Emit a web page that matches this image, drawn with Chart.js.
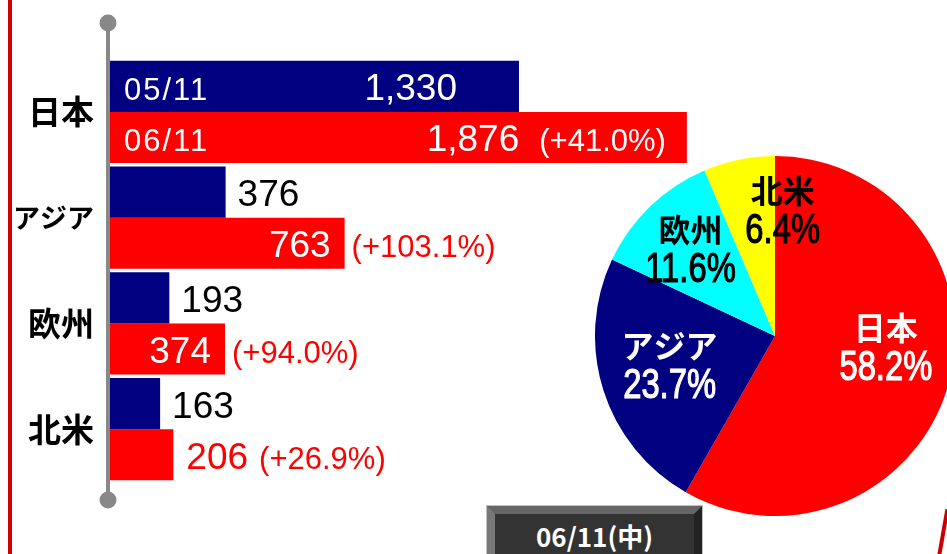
<!DOCTYPE html>
<html>
<head>
<meta charset="utf-8">
<script src="https://cdn.jsdelivr.net/npm/chart.js@4.4.1/dist/chart.umd.min.js"></script>
<style>
  html, body { margin: 0; padding: 0; background: #fff; overflow: hidden; }
  body { position: relative; width: 947px; height: 554px; }
  #redline { position: absolute; left: 8px; top: 0; width: 4px; height: 554px; background: #cc0000; }
  #bars { position: absolute; left: 0; top: 0; }
  #pie { position: absolute; left: 595px; top: 156px; }
  #btn {
    position: absolute; left: 487px; top: 506px; width: 215px; height: 70px;
    box-sizing: border-box; border: 8px solid; border-color: #666 #222 #333 #777;
    outline: 1px solid #c0c0c0; background: #333; color: #fff; text-align: center;
    font: bold 26px "Noto Sans CJK JP", sans-serif; line-height: 30px; padding-top: 7px;
  }
  #corner { position: absolute; left: 941px; top: 509px; width: 4px; height: 50px; background: #cc0000; transform: rotate(10deg); }
</style>
</head>
<body>
<div id="redline"></div>
<canvas id="bars" width="730" height="554"></canvas>
<canvas id="pie" width="360" height="360"></canvas>
<div id="btn">06/11(中)</div>
<div id="corner"></div>
<script>
var regions = ['日本', 'アジア', '欧州', '北米'];
var dates = ['05/11', '06/11'];
var prev = [1330, 376, 193, 163];
var curr = [1876, 763, 374, 206];
var growth = [41.0, 103.1, 94.0, 26.9];
var share = [58.2, 23.7, 11.6, 6.4];

var NAVY = '#000080';
var RED = '#ff0000';
var NUM = '37px "Liberation Sans", Arial, sans-serif';
var SMALL = '31px "Liberation Sans", Arial, sans-serif';

// gray stem with round ends left of the bars
var stem = {
  id: 'stem',
  beforeDatasetsDraw: function (chart) {
    var a = chart.chartArea, ctx = chart.ctx;
    var x = a.left - 2, top = a.top - 36, bottom = a.bottom + 18;
    ctx.save();
    ctx.strokeStyle = '#888';
    ctx.fillStyle = '#888';
    ctx.lineWidth = 4;
    ctx.beginPath();
    ctx.moveTo(x, top);
    ctx.lineTo(x, bottom);
    ctx.stroke();
    [top, bottom].forEach(function (y) {
      ctx.beginPath();
      ctx.arc(x, y, 8.5, 0, Math.PI * 2);
      ctx.fill();
    });
    ctx.restore();
  }
};

var barLabels = {
  id: 'barLabels',
  afterDatasetsDraw: function (chart) {
    var ctx = chart.ctx;
    ctx.save();
    ctx.textBaseline = 'alphabetic';
    chart.data.datasets.forEach(function (ds, di) {
      var meta = chart.getDatasetMeta(di);
      meta.data.forEach(function (bar, i) {
        var y = bar.y + 14;
        var w = bar.x - bar.base;
        var num = ds.data[i].toLocaleString('en-US');
        if (i === 0) {
          ctx.font = SMALL;
          ctx.fillStyle = '#fff';
          ctx.textAlign = 'left';
          ctx.letterSpacing = '2px';
          ctx.fillText(ds.label, bar.base + 14, y);
          ctx.letterSpacing = '0px';
        }
        ctx.font = NUM;
        var nw = ctx.measureText(num).width;
        if (di === 0) {
          if (w > 300) {
            ctx.fillStyle = '#fff';
            ctx.textAlign = 'right';
            ctx.fillText(num, bar.x - 62, y);
          } else {
            ctx.fillStyle = '#000';
            ctx.textAlign = 'left';
            ctx.fillText(num, bar.x + 12, y);
          }
          return;
        }
        var pct = '(+' + growth[i].toFixed(1) + '%)';
        ctx.font = SMALL;
        var pw = ctx.measureText(pct).width;
        if (w > nw + pw + 170) {
          ctx.fillStyle = '#fff';
          ctx.textAlign = 'right';
          ctx.fillText(pct, bar.x - 21, y);
          ctx.font = NUM;
          ctx.fillText(num, bar.x - 21 - pw - 20, y);
        } else if (w > nw + 40) {
          ctx.font = NUM;
          ctx.fillStyle = '#fff';
          ctx.textAlign = 'right';
          ctx.fillText(num, bar.x - 14, y);
          ctx.font = SMALL;
          ctx.fillStyle = RED;
          ctx.textAlign = 'left';
          ctx.fillText(pct, bar.x + 7, y);
        } else {
          ctx.font = NUM;
          ctx.fillStyle = RED;
          ctx.textAlign = 'left';
          ctx.fillText(num, bar.x + 13, y);
          ctx.font = SMALL;
          ctx.fillText(pct, bar.x + 13 + nw + 11, y);
        }
      });
    });
    ctx.restore();
  }
};

new Chart(document.getElementById('bars'), {
  type: 'bar',
  data: {
    labels: regions,
    datasets: [
      { label: dates[0], data: prev, backgroundColor: NAVY, borderWidth: 0, categoryPercentage: 0.965, barPercentage: 1 },
      { label: dates[1], data: curr, backgroundColor: RED, borderWidth: 0, categoryPercentage: 0.965, barPercentage: 1 }
    ]
  },
  options: {
    indexAxis: 'y',
    responsive: false,
    animation: false,
    layout: { padding: { top: 59, bottom: 72, left: 0, right: 5 } },
    plugins: { legend: { display: false }, tooltip: { enabled: false } },
    scales: {
      x: { display: false, min: 0, max: 2000 },
      y: {
        grid: { display: false, drawTicks: false },
        border: { display: false },
        ticks: {
          color: '#000',
          padding: 16,
          font: function (c) {
            return { family: '"Noto Sans CJK JP", sans-serif', weight: 'bold', size: regions[c.index].length > 2 ? 27 : 33 };
          }
        },
        afterFit: function (scale) { scale.width = 110; }
      }
    }
  },
  plugins: [stem, barLabels]
});

// pie labels
var pieText = ['#fff', '#fff', '#000', '#000'];
var nudge = [[3, -17], [1, -4], [-7, -6], [30, -16]];

var pieLabels = {
  id: 'pieLabels',
  afterDatasetsDraw: function (chart) {
    var ctx = chart.ctx;
    var meta = chart.getDatasetMeta(0);
    ctx.save();
    ctx.textAlign = 'center';
    ctx.textBaseline = 'middle';
    meta.data.forEach(function (arc, i) {
      var mid = (arc.startAngle + arc.endAngle) / 2;
      var r = arc.outerRadius * 0.62;
      var x = arc.x + Math.cos(mid) * r + nudge[i][0];
      var y = arc.y + Math.sin(mid) * r + nudge[i][1];
      ctx.fillStyle = pieText[i];
      ctx.strokeStyle = pieText[i];
      ctx.font = 'bold 32px "Noto Sans CJK JP", sans-serif';
      ctx.fillText(regions[i], x, y - 20);
      // percentages are set in a narrow face: squeeze regular sans horizontally
      ctx.save();
      ctx.translate(x, y + 21);
      ctx.scale(0.78, 1);
      ctx.font = '42px "Liberation Sans", Arial, sans-serif';
      ctx.lineWidth = 1.2;
      ctx.fillText(share[i].toFixed(1) + '%', 0, 0);
      ctx.strokeText(share[i].toFixed(1) + '%', 0, 0);
      ctx.restore();
    });
    ctx.restore();
  }
};

new Chart(document.getElementById('pie'), {
  type: 'pie',
  data: {
    labels: regions,
    datasets: [{
      data: share,
      backgroundColor: [RED, NAVY, '#00ffff', '#ffff00'],
      borderWidth: 0
    }]
  },
  options: {
    responsive: false,
    animation: false,
    layout: { padding: 0 },
    plugins: { legend: { display: false }, tooltip: { enabled: false } }
  },
  plugins: [pieLabels]
});
</script>
</body>
</html>
